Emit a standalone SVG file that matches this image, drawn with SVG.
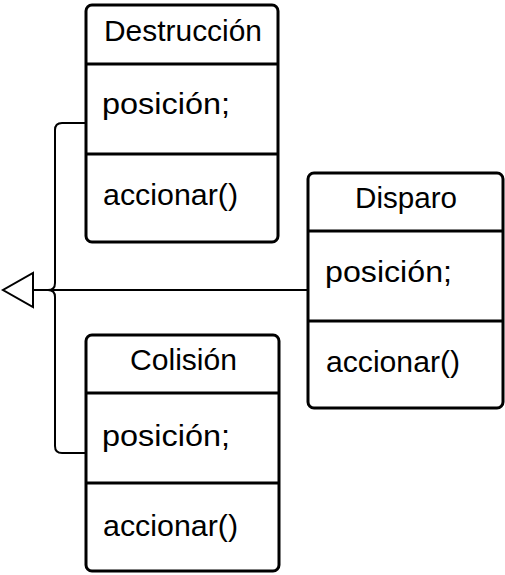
<svg xmlns="http://www.w3.org/2000/svg" width="505" height="575" viewBox="0 0 505 575">
<style>
.box{fill:#fff;stroke:#000;stroke-width:3}
.sep{stroke:#000;stroke-width:3}
.t{font-family:"Liberation Sans",Arial,sans-serif;font-size:30px;fill:#000}
.c{text-anchor:middle}
.edge{fill:none;stroke:#000;stroke-width:2}
</style>
<rect width="505" height="575" fill="#fff"/>
<g id="connectors">
<path class="edge" d="M308,290 L33,290"/>
<path class="edge" d="M86,123 L62,123 Q55,123 55,130 L55,283 Q55,290 48,290 L33,290"/>
<path class="edge" d="M86,453 L62,453 Q55,453 55,446 L55,297 Q55,290 48,290 L33,290"/>
<polygon points="33,273 33,307 3,290" fill="#fff" stroke="#000" stroke-width="2"/>
</g>
<g id="destruccion">
<rect class="box" x="86" y="5" width="192" height="237" rx="6"/>
<line class="sep" x1="86" y1="64" x2="278" y2="64"/>
<line class="sep" x1="86" y1="154" x2="278" y2="154"/>
<text class="t c" x="183" y="41" textLength="158" lengthAdjust="spacingAndGlyphs">Destrucción</text>
<text class="t" x="102" y="114" textLength="128" lengthAdjust="spacingAndGlyphs">posición;</text>
<text class="t" x="103" y="205" textLength="135" lengthAdjust="spacingAndGlyphs">accionar()</text>
</g>
<g id="disparo">
<rect class="box" x="308" y="173" width="195" height="235" rx="6"/>
<line class="sep" x1="308" y1="231" x2="503" y2="231"/>
<line class="sep" x1="308" y1="321" x2="503" y2="321"/>
<text class="t c" x="406" y="208" textLength="102" lengthAdjust="spacingAndGlyphs">Disparo</text>
<text class="t" x="325" y="282" textLength="127" lengthAdjust="spacingAndGlyphs">posición;</text>
<text class="t" x="326" y="372" textLength="134" lengthAdjust="spacingAndGlyphs">accionar()</text>
</g>
<g id="colision">
<rect class="box" x="86" y="335" width="193" height="236" rx="6"/>
<line class="sep" x1="86" y1="393" x2="279" y2="393"/>
<line class="sep" x1="86" y1="483" x2="279" y2="483"/>
<text class="t c" x="183.5" y="370" textLength="107" lengthAdjust="spacingAndGlyphs">Colisión</text>
<text class="t" x="102" y="446" textLength="128" lengthAdjust="spacingAndGlyphs">posición;</text>
<text class="t" x="103" y="536" textLength="135" lengthAdjust="spacingAndGlyphs">accionar()</text>
</g>
</svg>
